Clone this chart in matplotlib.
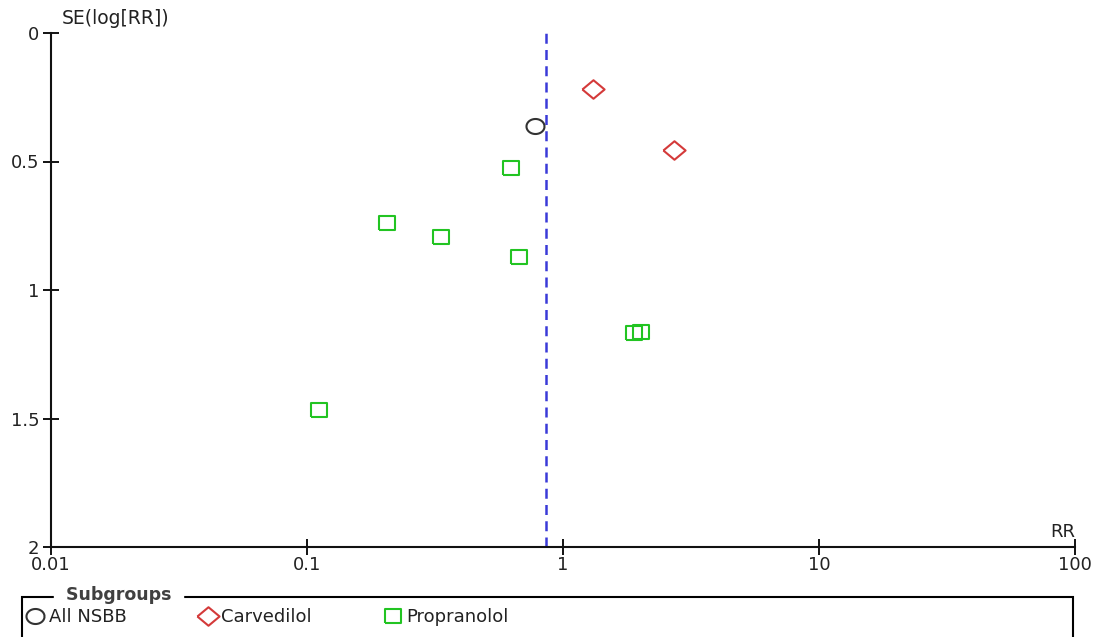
import numpy as np
import matplotlib
matplotlib.use("Agg")
import matplotlib.pyplot as plt
from matplotlib.patches import Rectangle

plt.rcParams['font.family'] = ['DejaVu Sans']

# funnel plot data: RR and SE(log[RR]) per study
nsbb_rr = [0.78]
nsbb_se = [0.362]
carv_rr = [1.31, 2.72]
carv_se = [0.218, 0.455]
prop_rr = [0.626, 0.205, 0.333, 0.673, 1.89, 2.02, 0.111]
prop_se = [0.525, 0.739, 0.794, 0.872, 1.167, 1.163, 1.467]
pooled_rr = 0.859

x_ticks = [0.01, 0.1, 1, 10, 100]
x_labels = ["0.01", "0.1", "1", "10", "100"]
y_ticks = [0, 0.5, 1, 1.5, 2]
y_labels = ["0", "0.5", "1", "1.5", "2"]

# slightly wide markers like the original
sq = [(-1.2, -1), (1.2, -1), (1.2, 1), (-1.2, 1), (-1.2, -1)]
dia = [(-1.2, 0), (0, 1), (1.2, 0), (0, -1), (-1.2, 0)]
t = np.linspace(0, 2 * np.pi, 40)
ell = list(zip(1.2 * np.cos(t), np.sin(t)))

green = "#22c422"
red = "#d43a3a"
dark = "#333333"
blue = "#3a3ad8"
txt = "#222222"

fig = plt.figure(figsize=(10.99, 6.37), dpi=100)
ax = fig.add_axes([51 / 1099, 1 - 547 / 637, 1024 / 1099, 514 / 637])

ax.axvline(pooled_rr, color=blue, lw=1.8, ls=(0, (4, 2.5)), zorder=1)

h1, = ax.plot(nsbb_rr, nsbb_se, ls='none', marker=ell, ms=13, mfc='none',
              mec=dark, mew=1.5, label="All NSBB")
h2, = ax.plot(carv_rr, carv_se, ls='none', marker=dia, ms=16, mfc='none',
              mec=red, mew=1.5, label="Carvedilol")
h3, = ax.plot(prop_rr, prop_se, ls='none', marker=sq, ms=12, mfc='none',
              mec=green, mew=1.5, label="Propranolol")

ax.set_xscale('log')
ax.set_xlim(0.01, 100)
ax.set_ylim(2, 0)
ax.set_xticks(x_ticks)
ax.set_xticklabels(x_labels)
ax.xaxis.set_minor_locator(matplotlib.ticker.NullLocator())
ax.set_yticks(y_ticks)
ax.set_yticklabels(y_labels)

for s in ['top', 'right']:
    ax.spines[s].set_visible(False)
for s in ['left', 'bottom']:
    ax.spines[s].set_linewidth(1.5)
    ax.spines[s].set_color('#111111')
ax.tick_params(axis='x', direction='inout', length=11, width=1.3, labelsize=13,
               pad=1, labelcolor=txt)
ax.tick_params(axis='y', direction='inout', length=11, width=1.3, labelsize=13,
               pad=3, labelcolor=txt)
ax.patch.set_visible(False)

fig.text(62 / 1099, 1 - 18 / 637, "SE(log[RR])", fontsize=13.5, va='center', ha='left', color=txt)
fig.text(1075 / 1099, 1 - 532 / 637, "RR", fontsize=13, va='center', ha='right', color=txt)

# legend box with the title on the border
fig.add_artist(Rectangle((22 / 1099, -0.02), 1051 / 1099, (0.02 + 40 / 637),
                         transform=fig.transFigure, fill=False, ec='black', lw=1.5))
fig.text(60 / 1099, 1 - 595 / 637, " Subgroups ", fontsize=12.5, fontweight='bold',
         color='#404040', va='center', ha='left', backgroundcolor='white')
fig.legend(handles=[h1, h2, h3], loc='center left', bbox_to_anchor=(26 / 1099, 1 - 617 / 637),
           ncol=3, frameon=False, fontsize=13, handletextpad=0.25, columnspacing=4.0,
           handlelength=1.0, borderpad=0, borderaxespad=0, labelcolor=txt)

fig.savefig("out.png", dpi=100)
